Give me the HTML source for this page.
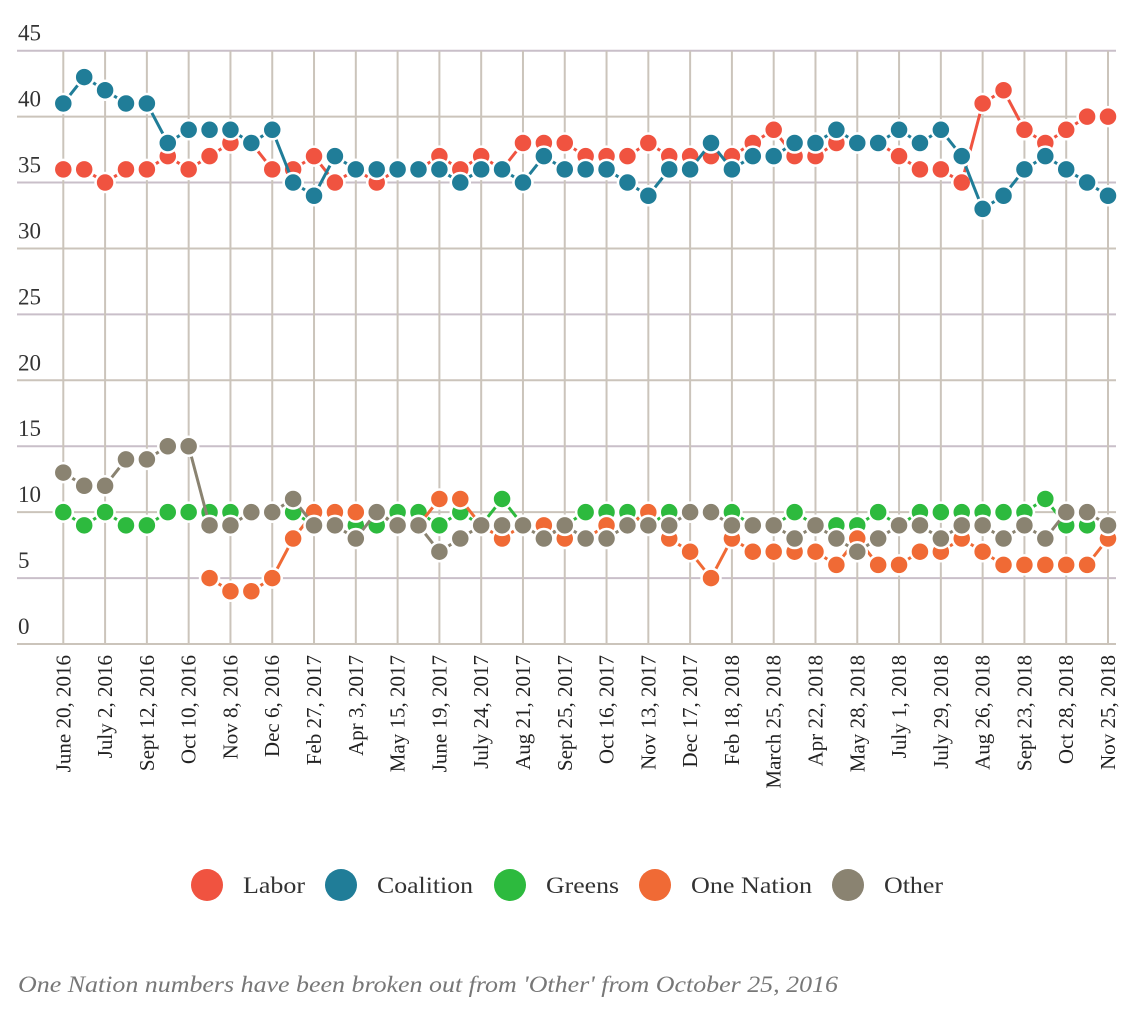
<!DOCTYPE html>
<html><head><meta charset="utf-8">
<style>
html,body{margin:0;padding:0;background:#fff;width:1136px;height:1015px;overflow:hidden}
svg{display:block}
text{font-family:"Liberation Serif","DejaVu Serif",serif}
</style></head>
<body>
<svg id="chart" width="1136" height="1015" xmlns="http://www.w3.org/2000/svg">
<g id="grid"></g>
<g id="yaxis"></g>
<g id="xaxis"></g>
<g id="series"></g>
<g id="legend"></g>
<text x="18" y="992" font-size="23" font-style="italic" fill="#777" textLength="820" lengthAdjust="spacingAndGlyphs" font-family="Liberation Serif, DejaVu Serif, serif">One Nation numbers have been broken out from 'Other' from October 25, 2016</text>
</svg>
<script>
const xLabels = ["June 20, 2016","July 2, 2016","Sept 12, 2016","Oct 10, 2016","Nov 8, 2016","Dec 6, 2016","Feb 27, 2017","Apr 3, 2017","May 15, 2017","June 19, 2017","July 24, 2017","Aug 21, 2017","Sept 25, 2017","Oct 16, 2017","Nov 13, 2017","Dec 17, 2017","Feb 18, 2018","March 25, 2018","Apr 22, 2018","May 28, 2018","July 1, 2018","July 29, 2018","Aug 26, 2018","Sept 23, 2018","Oct 28, 2018","Nov 25, 2018"];
const yTicks = [0,5,10,15,20,25,30,35,40,45];
const labor = [36,36,35,36,36,37,36,37,38,38,36,36,37,35,36,35,36,36,37,36,37,36,38,38,38,37,37,37,38,37,37,37,37,38,39,37,37,38,38,38,37,36,36,35,41,42,39,38,39,40,40];
const coalition = [41,43,42,41,41,38,39,39,39,38,39,35,34,37,36,36,36,36,36,35,36,36,35,37,36,36,36,35,34,36,36,38,36,37,37,38,38,39,38,38,39,38,39,37,33,34,36,37,36,35,34];
const greens = [10,9,10,9,9,10,10,10,10,10,10,10,9,9,9,9,10,10,9,10,9,11,9,9,9,10,10,10,9,10,10,10,10,9,9,10,9,9,9,10,9,10,10,10,10,10,10,11,9,9,9];
const oneNation = [null,null,null,null,null,null,null,5,4,4,5,8,10,10,10,10,9,9,11,11,9,8,9,9,8,8,9,9,10,8,7,5,8,7,7,7,7,6,8,6,6,7,7,8,7,6,6,6,6,6,8];
const other = [13,12,12,14,14,15,15,9,9,10,10,11,9,9,8,10,9,9,7,8,9,9,9,8,9,8,8,9,9,9,10,10,9,9,9,8,9,8,7,8,9,9,8,9,9,8,9,8,10,10,9];

const NS="http://www.w3.org/2000/svg";
const N = labor.length;
const x0=63.3, x1=1108, yTop=50.7, yBot=644, vMax=45;
function xs(i){return x0+(x1-x0)*i/(N-1);}
function ys(v){return yBot-(yBot-yTop)*v/vMax;}
function mk(tag,attrs,parent){const e=document.createElementNS(NS,tag);for(const k in attrs)e.setAttribute(k,attrs[k]);parent.appendChild(e);return e;}
const grid=document.getElementById('grid'),ya=document.getElementById('yaxis'),xa=document.getElementById('xaxis'),ser=document.getElementById('series'),leg=document.getElementById('legend');

yTicks.forEach(t=>{
  const l=mk('line',{x1:17,x2:1116,y1:ys(t),y2:ys(t),stroke:t%10===5?'#c9bfc9':'#cbc4bb','stroke-width':2},grid);
  
  
  const tx=mk('text',{x:18,y:ys(t)-10,'font-size':23,fill:'#333'},ya);
  tx.textContent=t;
  
  
});
xLabels.forEach((lab,k)=>{
  const x=xs(k*2);
  const l=mk('line',{x1:x,x2:x,y1:yTop,y2:yBot,stroke:'#cbc4bb','stroke-width':2},grid);
  
  
  const tx=mk('text',{x:0,y:0,'font-size':21,fill:'#222','text-anchor':'end',transform:`translate(${x+7},655) rotate(-90)`},xa);
  tx.textContent=lab;
  
  
});

const seriesDefs=[
  {name:'Labor',data:labor,color:'#f05340'},
  {name:'Coalition',data:coalition,color:'#207d98'},
  {name:'Greens',data:greens,color:'#2dba3e'},
  {name:'One Nation',data:oneNation,color:'#f06a35'},
  {name:'Other',data:other,color:'#8a8371'}
];
seriesDefs.forEach(s=>{
  const g=mk('g',{},ser);
  
  
  let d='';let started=false;
  s.data.forEach((v,i)=>{if(v==null){started=false;return;}d+=(started?'L':'M')+xs(i)+','+ys(v);started=true;});
  const p=mk('path',{d:d,fill:'none',stroke:s.color,'stroke-width':3},g);
  
  
  s.data.forEach((v,i)=>{
    if(v==null)return;
    const c=mk('circle',{cx:xs(i),cy:ys(v),r:9.5,fill:s.color,stroke:'#fff','stroke-width':2.5},g);
    
    
  });
});

const legX=[207,341,510,655,848];
const legW=[62,96,73,121,59];
seriesDefs.forEach((s,k)=>{
  const g=mk('g',{},leg);
  
  
  mk('circle',{cx:legX[k],cy:885,r:16,fill:s.color},g);
  const t=mk('text',{x:legX[k]+36,y:893,'font-size':23,fill:'#333',textLength:legW[k],lengthAdjust:'spacingAndGlyphs'},g);
  t.textContent=s.name;
});
</script>
</body></html>
